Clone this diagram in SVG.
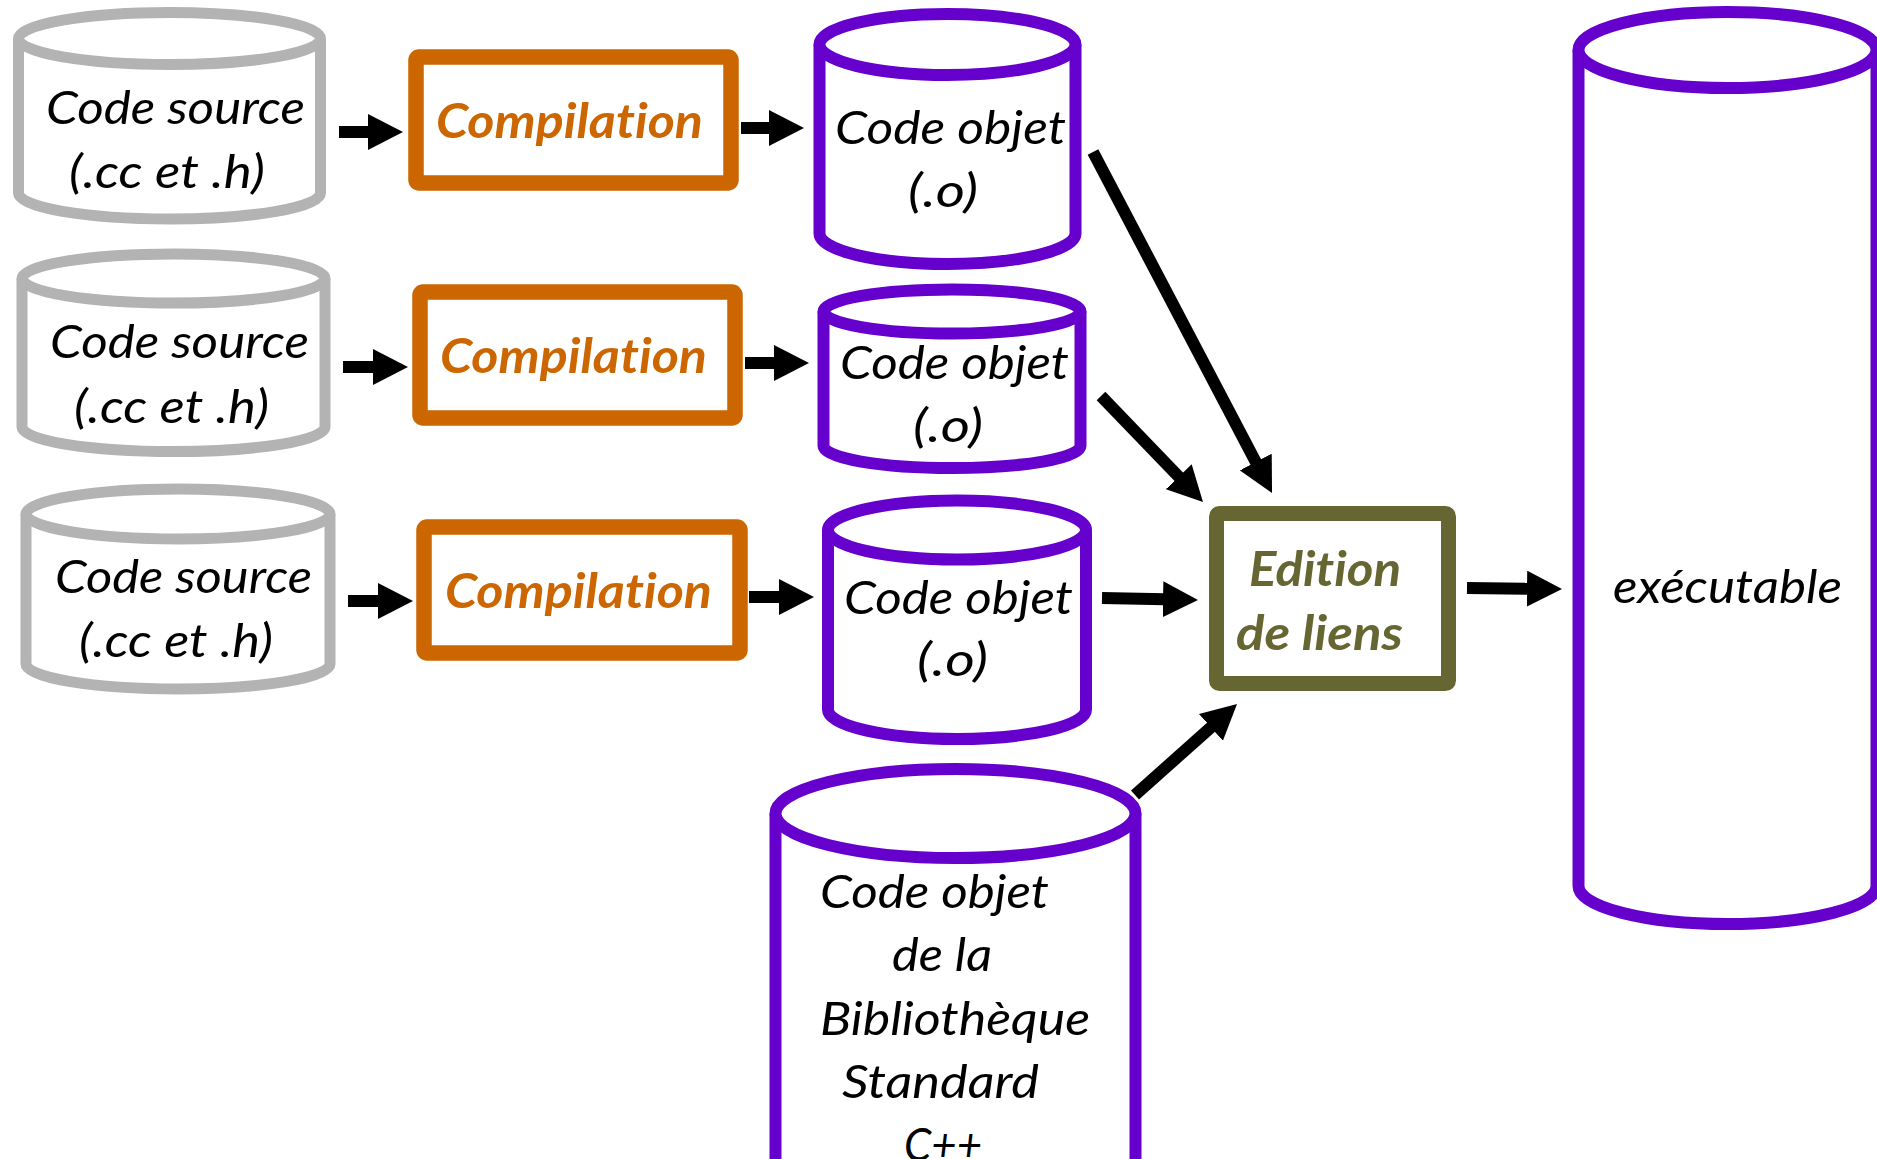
<svg xmlns="http://www.w3.org/2000/svg" width="1877" height="1159" viewBox="0 0 1877 1159">
<style>
  .bg{fill:#ffffff}
  .gray{fill:#ffffff;stroke:#B3B3B3;stroke-width:11;stroke-linejoin:round}
  .purple{fill:#ffffff;stroke:#6600CC;stroke-width:12;stroke-linejoin:round}
  .comp{fill:#ffffff;stroke:#CC6600;stroke-width:15.5;stroke-linejoin:round}
  .edit{fill:#ffffff;stroke:#666633;stroke-width:15;stroke-linejoin:round}
  text{font-variant-ligatures:none;font-feature-settings:"liga" 0,"dlig" 0}
  .t{font-family:Lato,"Open Sans","Liberation Sans",sans-serif;font-style:italic;font-size:47px;fill:#000000}
  .tc{font-family:Lato,"Open Sans","Liberation Sans",sans-serif;font-style:italic;font-weight:bold;font-size:47px;fill:#CC6600}
  .te{font-family:Lato,"Open Sans","Liberation Sans",sans-serif;font-style:italic;font-weight:bold;font-size:47px;fill:#666633}
  .arr{stroke:#000000;stroke-width:12;fill:none;marker-end:url(#ah)}
</style>
<defs>
  <marker id="ah" markerUnits="userSpaceOnUse" markerWidth="35" markerHeight="36" viewBox="0 0 35 36" refX="2" refY="18" orient="auto">
    <path d="M0,0 L35,18 L0,36 Z" fill="#000000"/>
  </marker>
</defs>
<rect class="bg" x="0" y="0" width="1877" height="1159"/>

<g id="src1">
  <path class="gray" d="M18.5,38.5 L18.5,193 A151,26 0 0 0 320.5,193 L320.5,38.5"/>
  <ellipse class="gray" cx="169.5" cy="38.5" rx="151" ry="26"/>
  <text class="t" x="46" y="124" textLength="259" lengthAdjust="spacingAndGlyphs">Code source</text>
  <text class="t" x="69" y="188" textLength="196" lengthAdjust="spacingAndGlyphs">(.cc et .h)</text>
</g>
<g id="src2">
  <path class="gray" d="M22,278.5 L22,427 A151.5,24.5 0 0 0 325,427 L325,278.5"/>
  <ellipse class="gray" cx="173.5" cy="278.5" rx="151.5" ry="24.5"/>
  <text class="t" x="50" y="358" textLength="259" lengthAdjust="spacingAndGlyphs">Code source</text>
  <text class="t" x="74" y="423" textLength="195" lengthAdjust="spacingAndGlyphs">(.cc et .h)</text>
</g>
<g id="src3">
  <path class="gray" d="M26,514 L26,664 A152,25 0 0 0 330,664 L330,514"/>
  <ellipse class="gray" cx="178" cy="514" rx="152" ry="25"/>
  <text class="t" x="55" y="593" textLength="257" lengthAdjust="spacingAndGlyphs">Code source</text>
  <text class="t" x="79" y="657" textLength="194" lengthAdjust="spacingAndGlyphs">(.cc et .h)</text>
</g>

<g id="comp1">
  <rect class="comp" x="416" y="57" width="315" height="126" rx="3"/>
  <text class="tc" x="436" y="138" textLength="267" lengthAdjust="spacingAndGlyphs">Compilation</text>
</g>
<g id="comp2">
  <rect class="comp" x="420" y="292" width="315" height="126" rx="3"/>
  <text class="tc" x="440" y="373" textLength="267" lengthAdjust="spacingAndGlyphs">Compilation</text>
</g>
<g id="comp3">
  <rect class="comp" x="424" y="527" width="316" height="126" rx="3"/>
  <text class="tc" x="445" y="608" textLength="267" lengthAdjust="spacingAndGlyphs">Compilation</text>
</g>

<g id="obj1">
  <path class="purple" d="M819.5,44.5 L819.5,233.5 A128,30.5 0 0 0 1075.5,233.5 L1075.5,44.5"/>
  <ellipse class="purple" cx="947.5" cy="44.5" rx="128" ry="30.5"/>
  <text class="t" x="835" y="144" textLength="231" lengthAdjust="spacingAndGlyphs">Code objet</text>
  <text class="t" x="908" y="207" textLength="70" lengthAdjust="spacingAndGlyphs">(.o)</text>
</g>
<g id="obj2">
  <path class="purple" d="M823.5,311.5 L823.5,446 A128.5,22 0 0 0 1080.5,446 L1080.5,311.5"/>
  <ellipse class="purple" cx="952" cy="311.5" rx="128.5" ry="22"/>
  <text class="t" x="840" y="379" textLength="229" lengthAdjust="spacingAndGlyphs">Code objet</text>
  <text class="t" x="913" y="442" textLength="70" lengthAdjust="spacingAndGlyphs">(.o)</text>
</g>
<g id="obj3">
  <path class="purple" d="M828,530 L828,709.5 A129,29.5 0 0 0 1086,709.5 L1086,530"/>
  <ellipse class="purple" cx="957" cy="530" rx="129" ry="29.5"/>
  <text class="t" x="844" y="614" textLength="229" lengthAdjust="spacingAndGlyphs">Code objet</text>
  <text class="t" x="917" y="676" textLength="71" lengthAdjust="spacingAndGlyphs">(.o)</text>
</g>

<g id="lib">
  <path class="purple" d="M775.5,813.5 L775.5,1200 L1135.5,1200 L1135.5,813.5"/>
  <ellipse class="purple" cx="955.5" cy="813.5" rx="180" ry="44.5"/>
  <text class="t" x="820" y="908" textLength="229" lengthAdjust="spacingAndGlyphs">Code objet</text>
  <text class="t" x="892" y="971" textLength="100" lengthAdjust="spacingAndGlyphs">de la</text>
  <text class="t" x="820" y="1035" textLength="270" lengthAdjust="spacingAndGlyphs">Bibliothèque</text>
  <text class="t" x="842" y="1098" textLength="197" lengthAdjust="spacingAndGlyphs">Standard</text>
  <text class="t" x="904" y="1161" textLength="78" lengthAdjust="spacingAndGlyphs">C++</text>
</g>

<g id="edition">
  <rect class="edit" x="1216.5" y="513.5" width="232" height="170" rx="3"/>
  <text class="te" x="1249" y="586" textLength="152" lengthAdjust="spacingAndGlyphs">Edition</text>
  <text class="te" x="1236" y="650" textLength="167" lengthAdjust="spacingAndGlyphs">de liens</text>
</g>

<g id="exec">
  <path class="purple" d="M1578.5,50 L1578.5,886 A149,38 0 0 0 1876.5,886 L1876.5,50"/>
  <ellipse class="purple" cx="1727.5" cy="50" rx="149" ry="38"/>
  <text class="t" x="1613" y="603" textLength="229" lengthAdjust="spacingAndGlyphs">exécutable</text>
</g>

<g id="connectors">
  <line class="arr" x1="339" y1="132" x2="370" y2="132"/>
  <line class="arr" x1="343" y1="367" x2="375" y2="367"/>
  <line class="arr" x1="348" y1="601" x2="380" y2="601"/>
  <line class="arr" x1="741" y1="128" x2="771" y2="128"/>
  <line class="arr" x1="745" y1="363" x2="776" y2="363"/>
  <line class="arr" x1="749" y1="597" x2="781" y2="597"/>
  <line class="arr" x1="1093" y1="152" x2="1256.7" y2="463.8"/>
  <line class="arr" x1="1101" y1="396" x2="1180.1" y2="478.2"/>
  <line class="arr" x1="1102" y1="598" x2="1165" y2="599.3"/>
  <line class="arr" x1="1135" y1="795" x2="1212.4" y2="726"/>
  <line class="arr" x1="1467" y1="588" x2="1529" y2="588.7"/>
</g>
</svg>
